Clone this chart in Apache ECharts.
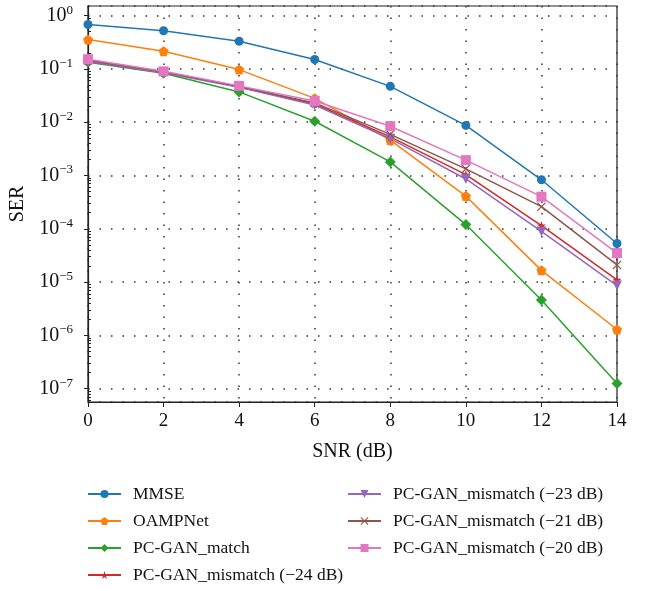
<!DOCTYPE html>
<html>
<head>
<meta charset="utf-8">
<script src="https://cdn.jsdelivr.net/npm/echarts@6/dist/echarts.min.js"></script>
<style>
  html, body { margin: 0; padding: 0; background: #fff; }
  #chart { width: 645px; height: 591px; }
</style>
</head>
<body>
<div id="chart"></div>
<script>
// SNR points (dB)
const snr = [0, 2, 4, 6, 8, 10, 12, 14];
const xTicks = [0, 2, 4, 6, 8, 10, 12, 14];

// SER values
const mmse = [0.68, 0.52, 0.33, 0.15, 0.047, 0.0087, 8.3e-4, 5.3e-5];
const oampnet = [0.355, 0.214, 0.097, 0.028, 4.6e-3, 4.1e-4, 1.66e-5, 1.29e-6];
const ganMatch = [0.133, 0.083, 0.037, 0.0104, 1.8e-3, 1.2e-4, 4.6e-6, 1.25e-7];
const mis24 = [0.14, 0.086, 0.046, 0.022, 5.3e-3, 1.04e-3, 1.15e-4, 1.1e-5];
const mis23 = [0.138, 0.085, 0.045, 0.021, 4.9e-3, 8.6e-4, 8.9e-5, 8.6e-6];
const mis21 = [0.145, 0.088, 0.047, 0.023, 5.9e-3, 1.33e-3, 2.6e-4, 2.1e-5];
const mis20 = [0.152, 0.09, 0.048, 0.025, 8.4e-3, 1.94e-3, 4.0e-4, 3.5e-5];

const seriesNames = [
  'MMSE', 'OAMPNet', 'PC-GAN_match', 'PC-GAN_mismatch (\u221224 dB)',
  'PC-GAN_mismatch (\u221223 dB)', 'PC-GAN_mismatch (\u221221 dB)', 'PC-GAN_mismatch (\u221220 dB)'
];

// minor ticks 2..9 x 10^n
const minorTicks = [];
for (let e = -8; e <= 0; e++) {
  for (let m = 2; m <= 9; m++) minorTicks.push(m * Math.pow(10, e));
}

const FONT = '"Liberation Serif", "DejaVu Serif", serif';
const yMin = Math.pow(10, -7.25);
const yMax = Math.pow(10, 0.18);

const pentagon = 'path://M0,-1 L0.951,-0.309 L0.588,0.809 L-0.588,0.809 L-0.951,-0.309 Z';
const star = 'path://M0,-1 L0.223,-0.307 L0.951,-0.309 L0.361,0.117 L0.588,0.809 L0,0.38 L-0.588,0.809 L-0.361,0.117 L-0.951,-0.309 L-0.223,-0.307 Z';
const cross = 'path://M-1,-0.82 L-0.82,-1 L0,-0.18 L0.82,-1 L1,-0.82 L0.18,0 L1,0.82 L0.82,1 L0,0.18 L-0.82,1 L-1,0.82 L-0.18,0 Z';

function pairs(vals) {
  return snr.map((x, i) => [x, vals[i]]);
}

function mkSeries(name, vals, color, symbol, size, rotate) {
  return {
    name: name,
    type: 'line',
    data: pairs(vals),
    symbol: symbol,
    symbolSize: size,
    symbolRotate: rotate || 0,
    showAllSymbol: true,
    color: color,
    lineStyle: { width: 1.5, color: color },
    itemStyle: { color: color },
    emphasis: { disabled: true },
    animation: false,
    z: 3
  };
}

const chart = echarts.init(document.getElementById('chart'));

const legendBase = {
  orient: 'vertical',
  top: 484,
  padding: 0,
  itemWidth: 33,
  itemHeight: 10,
  itemGap: 7,
  selectedMode: false,
  textStyle: { fontFamily: FONT, fontSize: 17.5, color: '#111', lineHeight: 20, padding: [0, 0, 0, 7] }
};

chart.setOption({
  backgroundColor: '#fff',
  animation: false,
  grid: {
    left: 88, right: 28, top: 6, bottom: 189,
    outerBoundsMode: 'none',
    show: true, borderColor: '#222', borderWidth: 1.2, backgroundColor: 'transparent'
  },
  legend: [
    Object.assign({}, legendBase, { left: 87, data: seriesNames.slice(0, 4) }),
    Object.assign({}, legendBase, { left: 347, data: seriesNames.slice(4) })
  ],
  xAxis: {
    type: 'value',
    min: xTicks[0],
    max: xTicks[xTicks.length - 1],
    interval: 2,
    name: 'SNR (dB)',
    nameLocation: 'middle',
    nameGap: 40,
    nameTextStyle: { fontFamily: FONT, fontSize: 20, color: '#111' },
    axisLine: { show: true, lineStyle: { color: '#222', width: 1.2 } },
    axisTick: { show: true, length: 5, lineStyle: { color: '#222' } },
    axisLabel: { fontFamily: FONT, fontSize: 19, color: '#111', margin: 10 },
    splitLine: { show: true, lineStyle: { color: '#333', width: 1.5, type: [1.5, 10] } }
  },
  yAxis: [
    {
      type: 'log',
      logBase: 10,
      min: yMin,
      max: yMax,
      name: 'SER',
      nameLocation: 'middle',
      nameGap: 60,
      nameTextStyle: { fontFamily: FONT, fontSize: 20, color: '#111' },
      axisLine: { show: true, lineStyle: { color: '#222', width: 1.2 } },
      axisTick: { show: true, length: 4, lineStyle: { color: '#222' } },
      axisLabel: {
        margin: 15,
        showMinLabel: false,
        showMaxLabel: false,
        formatter: function (v) {
          const e = Math.log10(v);
          const r = Math.round(e);
          if (Math.abs(e - r) > 1e-6) return '';
          const ex = r < 0 ? '\u2212' + (-r) : String(r);
          return '{b|10}{s|' + ex + '}';
        },
        rich: {
          b: { fontFamily: FONT, fontSize: 20, color: '#111', lineHeight: 24 },
          s: { fontFamily: FONT, fontSize: 13, color: '#111', lineHeight: 14, verticalAlign: 'top' }
        }
      },
      splitLine: { show: true, lineStyle: { color: '#333', width: 1.5, type: [1.5, 10] } }
    },
    {
      type: 'log',
      logBase: 10,
      min: yMin,
      max: yMax,
      position: 'left',
      axisLine: { show: false },
      axisLabel: { show: false },
      splitLine: { show: false },
      axisTick: { show: true, inside: true, length: 3, lineStyle: { color: '#222' }, customValues: minorTicks }
    }
  ],
  series: [
    mkSeries(seriesNames[0], mmse, '#1f77b4', 'circle', 9),
    mkSeries(seriesNames[1], oampnet, '#ff7f0e', pentagon, 10),
    mkSeries(seriesNames[2], ganMatch, '#2ca02c', 'diamond', 11),
    mkSeries(seriesNames[3], mis24, '#d62728', star, 9),
    mkSeries(seriesNames[4], mis23, '#9467bd', 'triangle', 10, 180),
    mkSeries(seriesNames[5], mis21, '#8c564b', cross, 9),
    mkSeries(seriesNames[6], mis20, '#e377c2', 'rect', 10)
  ]
});
</script>
</body>
</html>
